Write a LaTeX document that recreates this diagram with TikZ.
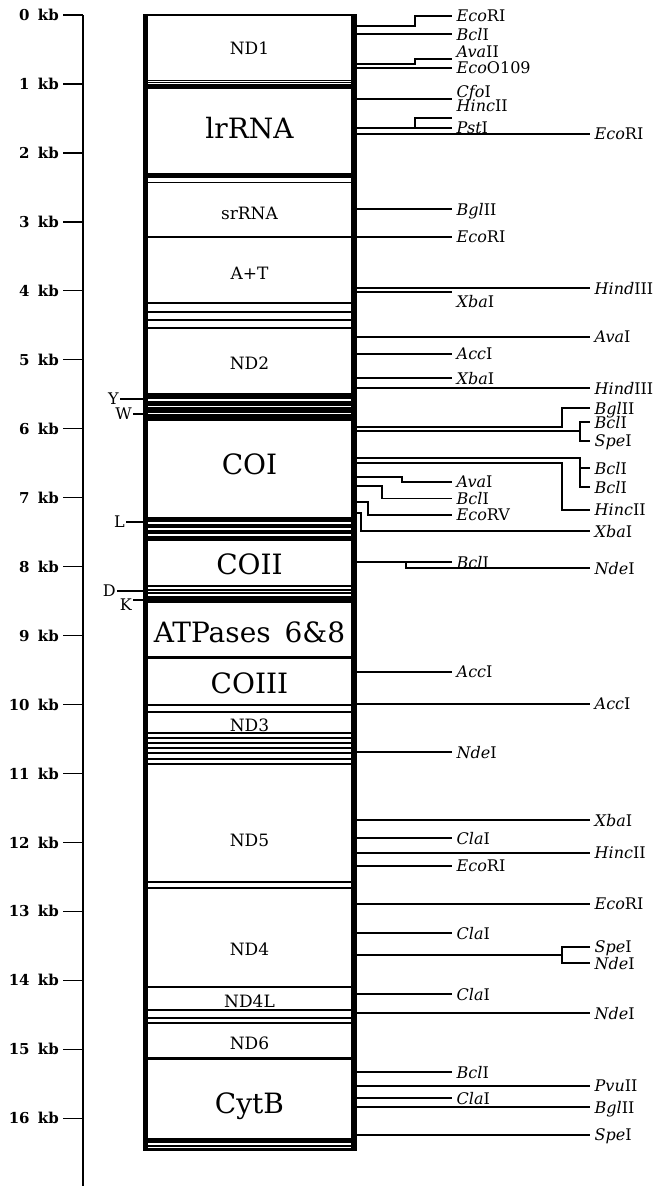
\documentclass[tikz,border=0pt]{standalone}
\usepackage{fontspec}
\setmainfont{DejaVu Serif}
\newcommand\enzit[2]{\textit{#1}#2}
\newcommand\sitestraight[4]{%
  \coordinate (s#1) at (357,#2);
  \node[enz] (e#1) at (#3,#2) {#4};
  \draw[site] (s#1) -- (e#1.west);}
\newcommand\sitebend[6]{%
  \coordinate (s#1) at (357,#2);
  \node[enz] (e#1) at (#5,#4) {#6};
  \draw[site] (s#1) -| (#3,#4) -- (e#1.west);}
\tikzset{
  site/.style={line width=1.2pt},
  enz/.style={font=\fontsize{16}{17}\selectfont, inner xsep=4.5pt, inner ysep=1pt, text depth=0pt, anchor=west},
  gene/.style={font=\fontsize{17}{17}\selectfont, inner sep=0pt, text depth=0pt},
  biggene/.style={font=\fontsize{28}{28}\selectfont, inner sep=0pt, text depth=0pt},
  kbl/.style={font=\fontsize{15}{15}\selectfont\bfseries, anchor=east, inner sep=1pt},
  trna/.style={font=\fontsize{16}{16}\selectfont, anchor=east, inner sep=1pt, text depth=0pt},
}
\begin{document}
\begin{tikzpicture}[x=1pt,y=-1pt]
\useasboundingbox (0,0) rectangle (669,1186);
% scale
\draw[line width=1.3pt] (83,15) -- (83,1186);
\foreach \k in {0,...,16}{
  \coordinate (t\k) at (83,{15+68.95*\k});
  \draw[line width=1.3pt] (t\k) -- ++(-20,0);
  \node[kbl] (kb\k) at (60,{15+68.95*\k}) {\k\hspace{0.55em}kb};
}
% bands
\foreach \y/\w in {15/1.5, 80/1, 82.2/1, 86.5/5, 175.8/5, 182.7/1.2, 237/1.2,
  303/1.2, 312/1.2, 320/1.2, 328/1.2, 657/3, 705/1.5, 712/1.5,
  733/1.2, 738/1.2, 743/1.2, 748/1.2, 753/1.2, 759/1.2, 764/1.2,
  882/1.5, 888/1.5, 987/1.5, 1010/2, 1018/1.5, 1023/1.5, 1058.5/3,
  1140.5/5, 1146/1.2, 1149/3}
  \draw[line width=\w pt] (145,\y) -- (355,\y);
\fill (145,393) rectangle (355,420.5);
\foreach \y in {400,406.3,413.5} \draw[white,line width=1.3pt] (148,\y) -- (352,\y);
\fill (145,517) rectangle (355,540.5);
\foreach \y in {523,529,535} \draw[white,line width=1.3pt] (148,\y) -- (352,\y);
\fill (145,585) rectangle (355,603);
\foreach \y in {588,591.5,595} \draw[white,line width=1.3pt] (148,\y) -- (352,\y);
% borders
\draw[line width=5pt] (145.8,14.3) -- (145.8,1150.5);
\draw[line width=5.5pt] (354.2,14.3) -- (354.2,1150.5);
% gene labels
\node[gene] (nd1) at (249.5,48) {ND1};
\node[biggene] (lrrna) at (249.5,128) {lrRNA};
\node[gene] (srrna) at (249.5,213) {srRNA};
\node[gene] (at) at (249.5,273) {A+T};
\node[gene] (nd2) at (249.5,363) {ND2};
\node[biggene] (coi) at (249.5,464) {COI};
\node[biggene] (coii) at (249.5,564) {COII};
\node[biggene] (atp) at (249.5,632) {ATPases\hspace{0.5em}6\&8};
\node[biggene] (coiii) at (249.5,683) {COIII};
\node[gene] (nd3) at (249.5,725) {ND3};
\node[gene] (nd5) at (249.5,840) {ND5};
\node[gene] (nd4) at (249.5,949) {ND4};
\node[gene] (nd4l) at (249.5,1001) {ND4L};
\node[gene] (nd6) at (249.5,1043) {ND6};
\node[biggene] (cytb) at (249.5,1103) {CytB};
% tRNA labels on the left
\node[trna] (Y) at (120,399) {Y};
\coordinate (yb) at (143,399);
\draw[site] (Y.east) -- (yb);
\node[trna] (W) at (133,414) {W};
\coordinate (wb) at (143,414);
\draw[site] (W.east) -- (wb);
\node[trna] (L) at (126,522) {L};
\coordinate (lb) at (143,522);
\draw[site] (L.east) -- (lb);
\node[trna] (D) at (117,591) {D};
\coordinate (db) at (143,591);
\draw[site] (D.east) -- (db);
\node[trna] (K) at (133,605) {K};
\coordinate (kb) at (143,600);
\draw[site] ([yshift=5pt]K.east) -- (kb);
% restriction sites
\sitebend{1}{26}{415}{16}{452}{\enzit{Eco}{RI}}
\sitestraight{2}{34}{452}{\enzit{Bcl}{I}}
\coordinate (s3) at (357,64);
\node[enz,anchor=south west] (e3) at (452,59) {\enzit{Ava}{II}};
\draw[site] (s3) -| (415,59) -- (e3.south west);
\sitestraight{4}{68}{452}{\enzit{Eco}{O109}}
\coordinate (s5) at (357,99);
\node[enz,anchor=south west] (e5a) at (452,99) {\enzit{Cfo}{I}};
\node[enz,anchor=north west] (e5b) at (452,99) {\enzit{Hinc}{II}};
\draw[site] (s5) -- (e5a.south west);
\sitestraight{6}{128}{452}{\enzit{Pst}{I}}
\coordinate (p6) at (452,118);
\draw[site] (415,128) |- (p6);
\sitestraight{7}{134}{590}{\enzit{Eco}{RI}}
\sitestraight{8}{209}{452}{\enzit{Bgl}{II}}
\sitestraight{9}{237}{452}{\enzit{Eco}{RI}}
\sitestraight{10}{288}{590}{\enzit{Hind}{III}}
\coordinate (s11) at (357,292);
\node[enz,anchor=north west,inner ysep=3pt] (e11) at (452,292) {\enzit{Xba}{I}};
\draw[site] (s11) -- (e11.north west);
\sitestraight{12}{337}{590}{\enzit{Ava}{I}}
\sitestraight{13}{354}{452}{\enzit{Acc}{I}}
\sitestraight{14}{378}{452}{\enzit{Xba}{I}}
\sitestraight{15}{388}{590}{\enzit{Hind}{III}}
\sitebend{16}{427}{562}{408}{590}{\enzit{Bgl}{II}}
\coordinate (s17) at (357,431);
\coordinate (f17) at (580,431);
\node[enz] (e17a) at (590,422) {\enzit{Bcl}{I}};
\node[enz] (e17b) at (590,441) {\enzit{Spe}{I}};
\draw[site] (s17) -- (f17);
\draw[site] (e17a.west) -| (f17) |- (e17b.west);
\coordinate (s18) at (357,458);
\coordinate (f18) at (580,468);
\node[enz] (e18a) at (590,468) {\enzit{Bcl}{I}};
\node[enz] (e18b) at (590,487) {\enzit{Bcl}{I}};
\draw[site] (s18) -| (580,487) -- (e18b.west);
\draw[site] (f18) -- (e18a.west);
\sitebend{19}{463}{562}{510}{590}{\enzit{Hinc}{II}}
\sitebend{20}{477}{402}{482}{452}{\enzit{Ava}{I}}
\sitebend{21}{486}{382}{498.5}{452}{\enzit{Bcl}{I}}
\sitebend{22}{502}{368}{515}{452}{\enzit{Eco}{RV}}
\sitebend{23}{513}{361}{531}{590}{\enzit{Xba}{I}}
\sitestraight{24}{562}{452}{\enzit{Bcl}{I}}
\coordinate (f24) at (406,562);
\node[enz] (e24b) at (590,568) {\enzit{Nde}{I}};
\draw[site] (f24) |- (e24b.west);
\sitestraight{25}{672}{452}{\enzit{Acc}{I}}
\sitestraight{26}{704}{590}{\enzit{Acc}{I}}
\sitestraight{27}{752}{452}{\enzit{Nde}{I}}
\sitestraight{28}{820}{590}{\enzit{Xba}{I}}
\sitestraight{29}{838}{452}{\enzit{Cla}{I}}
\sitestraight{30}{853}{590}{\enzit{Hinc}{II}}
\sitestraight{31}{866}{452}{\enzit{Eco}{RI}}
\sitestraight{32}{904}{590}{\enzit{Eco}{RI}}
\sitestraight{33}{933}{452}{\enzit{Cla}{I}}
\coordinate (s34) at (357,955);
\coordinate (f34) at (562,955);
\node[enz] (e34a) at (590,947) {\enzit{Spe}{I}};
\node[enz] (e34b) at (590,963) {\enzit{Nde}{I}};
\draw[line width=2.5pt] (s34) -- (f34);
\draw[site] (e34a.west) -| (f34) |- (e34b.west);
\sitestraight{35}{994}{452}{\enzit{Cla}{I}}
\sitestraight{36}{1013}{590}{\enzit{Nde}{I}}
\sitestraight{37}{1072}{452}{\enzit{Bcl}{I}}
\sitestraight{38}{1086}{590}{\enzit{Pvu}{II}}
\sitestraight{39}{1098}{452}{\enzit{Cla}{I}}
\sitestraight{40}{1107}{590}{\enzit{Bgl}{II}}
\sitestraight{41}{1135}{590}{\enzit{Spe}{I}}
\end{tikzpicture}
\end{document}
